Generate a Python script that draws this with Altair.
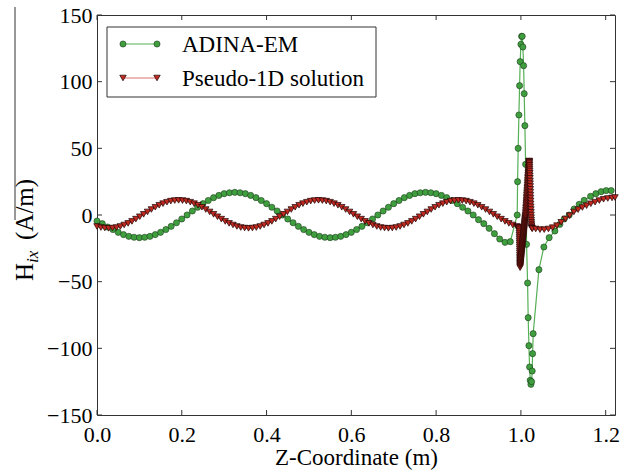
import altair as alt
import pandas as pd

FONT = "Liberation Serif"
W, H = 518, 400

# ---------------- data ----------------
x_ticks = [0.0, 0.2, 0.4, 0.6, 0.8, 1.0, 1.2]
y_ticks = [-150, -100, -50, 0, 50, 100, 150]

# ADINA-EM: regular grid part (step 0.0125 m starting at z = 0)
ADINA_STEP = 0.0125
adina_regular = [
    -4.5, -6.5, -9.0, -10.9, -13.0, -14.7, -16.0, -16.7, -17.0, -16.7, -16.0, -14.7,
    -13.0, -10.9, -8.5, -5.8, -3.0, 0.0, 3.0, 5.8, 8.5, 10.9, 13.0, 14.7,
    16.0, 16.7, 17.0, 16.7, 16.0, 14.7, 13.0, 10.9, 8.5, 5.8, 3.0, 0.0,
    -3.0, -5.8, -8.5, -10.9, -13.0, -14.7, -16.0, -16.7, -17.0, -16.7, -16.0, -14.7,
    -13.0, -10.9, -8.5, -5.8, -3.0, 0.0, 3.0, 5.8, 8.5, 10.9, 13.0, 14.7,
    16.0, 16.7, 17.0, 16.7, 16.0, 14.7, 13.0, 10.9, 8.5, 5.8, 3.0, 0.0,
    -3.5, -6.5, -10.0, -14.0, -18.0, -20.5, -20.0,
]
# ADINA-EM: refined region near z = 1.0 and beyond
adina_tail_z = [
    0.9913, 0.9922, 0.9936, 0.9953, 0.9969, 0.9983, 1.0000, 1.0017, 1.0031, 1.0047,
    1.0064, 1.0078, 1.0094, 1.0111, 1.0134, 1.0158, 1.0172, 1.0189, 1.0205, 1.0219,
    1.0236, 1.0252, 1.0267, 1.0276, 1.0290, 1.0425, 1.0542, 1.0667, 1.0802, 1.0920,
    1.1021, 1.1139, 1.1257, 1.1375, 1.1493, 1.1644, 1.1769, 1.1894, 1.2012, 1.2130,
]
adina_tail_h = [
    0, 25, 50, 75, 97, 115, 128, 134, 134, 126,
    112, 91, 67, 38, -22, -51, -77, -98, -114, -124,
    -127, -125, -117, -104, -89, -41, -24, -17, -12, -7,
    -3, 0, 4.5, 8, 11, 14, 16, 17.5, 18.3, 18.3,
]

# Pseudo-1D: regular grid part (step 0.33/36 m starting at z = 0)
PSEUDO_STEP = 0.33 / 36
pseudo_regular = [
    -8.6, -9.4, -9.8, -10.0, -9.8, -9.4, -8.6, -7.5, -6.3, -4.8, -3.1, -1.3,
    0.5, 2.3, 4.1, 5.8, 7.3, 8.5, 9.6, 10.4, 10.8, 11.0, 10.8, 10.4,
    9.6, 8.5, 7.3, 5.8, 4.1, 2.3, 0.5, -1.3, -3.1, -4.8, -6.3, -7.5,
    -8.6, -9.4, -9.8, -10.0, -9.8, -9.4, -8.6, -7.5, -6.3, -4.8, -3.1, -1.3,
    0.5, 2.3, 4.1, 5.8, 7.3, 8.5, 9.6, 10.4, 10.8, 11.0, 10.8, 10.4,
    9.6, 8.5, 7.3, 5.8, 4.1, 2.3, 0.5, -1.3, -3.1, -4.8, -6.3, -7.5,
    -8.6, -9.4, -9.8, -10.0, -9.8, -9.4, -8.6, -7.5, -6.3, -4.8, -3.1, -1.3,
    0.5, 2.3, 4.1, 5.8, 7.3, 8.5, 9.6, 10.4, 10.8, 11.0, 10.8, 10.4,
    9.6, 8.5, 7.3, 5.8, 4.1, 2.3, 0.5, -1.3, -3.1, -4.8, -6.3, -7.5,
    -8.6,
]
# Pseudo-1D: densely sampled thin layer near z = 1.0 (drawn as the dark band)
pseudo_layer_z = [
    # approach and nearly vertical drop
    0.9920, 0.9940, 0.9955,
    0.9960, 0.9961, 0.9962, 0.9963, 0.9964, 0.9965, 0.9966, 0.9967, 0.9968, 0.9969,
    0.9970, 0.9971, 0.9972, 0.9973, 0.9974, 0.9975, 0.9976, 0.9977, 0.9978, 0.9979,
    0.9980, 0.9981, 0.9982,
    # rise
    0.99850, 0.99875, 0.99900, 0.99925, 0.99950, 0.99975, 1.00000, 1.00025, 1.00050, 1.00075,
    1.00100, 1.00125, 1.00150, 1.00175, 1.00200, 1.00225, 1.00250, 1.00275, 1.00300, 1.00325,
    1.00350, 1.00375, 1.00400, 1.00425, 1.00450, 1.00475, 1.00500, 1.00525, 1.00550, 1.00575,
    1.00600, 1.00625, 1.00650, 1.00675, 1.00700, 1.00725, 1.00750, 1.00775, 1.00800, 1.00825,
    1.00850, 1.00875, 1.00900, 1.00925, 1.00950, 1.00975, 1.01000, 1.01025, 1.01050, 1.01075,
    1.01100, 1.01125, 1.01150, 1.01175, 1.01200, 1.01225, 1.01250, 1.01275, 1.01300, 1.01325,
    1.01350, 1.01375, 1.01400, 1.01425, 1.01450, 1.01475, 1.01500, 1.01525, 1.01550, 1.01575,
    1.01600, 1.01625, 1.01650, 1.01675, 1.01700, 1.01725, 1.01750, 1.01775, 1.01800, 1.01825,
    1.01850, 1.01875, 1.01900,
    # top and fall
    1.0195, 1.0197, 1.0199, 1.0201, 1.0203, 1.0205, 1.0207, 1.0209, 1.0211, 1.0213,
    1.0215, 1.0217, 1.0219, 1.0221, 1.0223, 1.0225, 1.0227, 1.0229, 1.0231, 1.0233,
    1.0235, 1.0237, 1.0239, 1.0241, 1.0243, 1.0245, 1.0247, 1.0249, 1.0251, 1.0253,
    1.0256, 1.0260, 1.0270,
]
pseudo_layer_h = [
    -9.0, -9.3, -9.6,
    -10.5, -12.0, -13.5, -15.0, -16.5, -18.0, -19.5, -21.0, -22.5, -24.0,
    -25.5, -27.0, -28.5, -30.0, -31.3, -32.6, -33.8, -35.0, -36.1, -37.1,
    -38.0, -38.8, -39.5,
    -38.0, -37.2, -36.5, -35.7, -35.0, -34.2, -33.4, -32.7, -31.9, -31.2,
    -30.4, -29.6, -28.9, -28.1, -27.4, -26.6, -25.8, -25.1, -24.3, -23.6,
    -22.8, -22.0, -21.3, -20.5, -19.8, -19.0, -18.2, -17.5, -16.7, -16.0,
    -15.2, -14.4, -13.7, -12.9, -12.2, -11.4, -10.6, -9.9, -9.1, -8.4,
    -7.6, -6.8, -6.1, -5.3, -4.6, -3.8, -3.0, -2.3, -1.5, -0.8,
    0.0, 1.2, 2.5, 3.7, 5.0, 6.2, 7.5, 8.7, 10.0, 11.2,
    12.5, 13.7, 15.0, 16.2, 17.5, 18.7, 20.0, 21.2, 22.5, 23.7,
    25.0, 26.2, 27.5, 28.7, 30.0, 31.2, 32.5, 33.7, 35.0, 36.2,
    37.5, 38.7, 40.0,
    40.5, 40.3, 39.5, 38.5, 37.3, 36.0, 34.5, 33.0, 31.2, 29.4,
    27.5, 25.5, 23.5, 21.4, 19.3, 17.2, 15.0, 12.8, 10.6, 8.4,
    6.2, 4.1, 2.0, 0.0, -2.0, -3.8, -5.4, -6.8, -8.0, -9.0,
    -9.7, -10.1, -10.3,
]
# Pseudo-1D: beyond the layer
pseudo_after_z = [
    1.035, 1.045, 1.055, 1.065, 1.075, 1.085, 1.095, 1.105, 1.115, 1.125,
    1.135, 1.145, 1.155, 1.165, 1.175, 1.185, 1.195, 1.205, 1.215, 1.222,
]
pseudo_after_h = [
    -10.5, -11, -11, -10.5, -9.5, -8, -5.5, -3, -0.5, 2.3,
    4, 5.6, 7, 8.4, 9.6, 10.8, 11.8, 12.4, 12.8, 13.1,
]

adina_z = [round(i * ADINA_STEP, 5) for i in range(len(adina_regular))] + adina_tail_z
adina_h = adina_regular + adina_tail_h
pseudo_z = ([round(i * PSEUDO_STEP, 5) for i in range(len(pseudo_regular))]
            + pseudo_layer_z + pseudo_after_z)
pseudo_h = pseudo_regular + pseudo_layer_h + pseudo_after_h

adina = pd.DataFrame({"z": adina_z, "h": adina_h, "k": list(range(len(adina_z)))})
pseudo = pd.DataFrame({"z": pseudo_z, "h": pseudo_h, "k": list(range(len(pseudo_z)))})
xt = pd.DataFrame({"z": x_ticks})
yt = pd.DataFrame({"h": y_ticks})
one = pd.DataFrame({"a": [0]})

# ---------------- styles ----------------
GREEN_FILL, GREEN_EDGE, GREEN_LINE = "#3f9f3f", "#1c3a1c", "#55b055"
RED_FILL, RED_EDGE, RED_LINE = "#c02a20", "#1e0505", "#d87070"
FRAME = "#333333"
G_SIZE, R_SIZE = 38, 42

xs = alt.Scale(domain=[0, 1.222], nice=False, zero=False)
ys = alt.Scale(domain=[-150, 150], nice=False, zero=False)

x_axis = alt.Axis(values=x_ticks, format=".1f", title="Z-Coordinate (m)", ticks=False,
                  labelFont=FONT, labelFontSize=22, labelPadding=9, labelColor="black",
                  titleFont=FONT, titleFontSize=23, titleFontWeight="normal",
                  titleColor="black", titlePadding=1, domain=False, grid=False,
                  labelFlush=False)
y_axis = alt.Axis(values=y_ticks, format="d", title=None, ticks=False,
                  labelFont=FONT, labelFontSize=22, labelPadding=5, labelColor="black",
                  domain=False, grid=False, labelFlush=False)

X = alt.X("z:Q", scale=xs, axis=x_axis)
Y = alt.Y("h:Q", scale=ys, axis=y_axis)

green_line = alt.Chart(adina).mark_line(color=GREEN_LINE, strokeWidth=1.2).encode(
    x=X, y=Y, order="k:Q")
green_pts = alt.Chart(adina).mark_point(
    shape="circle", filled=True, fill=GREEN_FILL, stroke=GREEN_EDGE, strokeWidth=0.6,
    size=G_SIZE, opacity=1, fillOpacity=1, strokeOpacity=1).encode(x=X, y=Y)
red_line = alt.Chart(pseudo).mark_line(color=RED_LINE, strokeWidth=1.2).encode(
    x=X, y=Y, order="k:Q")
red_pts = alt.Chart(pseudo).mark_point(
    shape="triangle-down", filled=True, fill=RED_FILL, stroke=RED_EDGE, strokeWidth=0.7,
    size=R_SIZE, opacity=1, fillOpacity=1, strokeOpacity=1).encode(x=X, y=Y)

# inward ticks on all four sides
TL = 5
tick_b = alt.Chart(xt).mark_rule(color=FRAME).encode(x=X, y=alt.value(H), y2=alt.value(H - TL))
tick_t = alt.Chart(xt).mark_rule(color=FRAME).encode(x=X, y=alt.value(0), y2=alt.value(TL))
tick_l = alt.Chart(yt).mark_rule(color=FRAME).encode(y=Y, x=alt.value(0), x2=alt.value(TL))
tick_r = alt.Chart(yt).mark_rule(color=FRAME).encode(y=Y, x=alt.value(W), x2=alt.value(W - TL))

# y-axis title  H_ix (A/m)
yt_H = alt.Chart(one).mark_text(text="H", angle=270, align="left", baseline="alphabetic",
                                font=FONT, fontSize=25, color="black").encode(
    x=alt.value(-64), y=alt.value(266))
yt_ix = alt.Chart(one).mark_text(text="ix", angle=270, align="left", baseline="alphabetic",
                                 font=FONT, fontSize=17, fontStyle="italic", color="black").encode(
    x=alt.value(-59), y=alt.value(248))
yt_unit = alt.Chart(one).mark_text(text="(A/m)", angle=270, align="left", baseline="alphabetic",
                                   font=FONT, fontSize=25, color="black").encode(
    x=alt.value(-64), y=alt.value(225))
yt_bar = alt.Chart(one).mark_rule(color=FRAME, strokeWidth=1).encode(
    x=alt.value(-82), y=alt.value(-8), y2=alt.value(205))

# legend
leg_box = alt.Chart(one).mark_rect(fill="white", stroke=FRAME, strokeWidth=1).encode(
    x=alt.value(10), x2=alt.value(279), y=alt.value(12), y2=alt.value(82))
leg_g_line = alt.Chart(one).mark_rule(color=GREEN_LINE, strokeWidth=1.2).encode(
    x=alt.value(26), x2=alt.value(60), y=alt.value(29))
leg_r_line = alt.Chart(one).mark_rule(color=RED_LINE, strokeWidth=1.2).encode(
    x=alt.value(26), x2=alt.value(60), y=alt.value(63))
leg_marks = []
for xv in (26, 60):
    leg_marks.append(alt.Chart(one).mark_point(
        shape="circle", filled=True, fill=GREEN_FILL, stroke=GREEN_EDGE, strokeWidth=0.6,
        size=G_SIZE, opacity=1).encode(x=alt.value(xv), y=alt.value(29)))
    leg_marks.append(alt.Chart(one).mark_point(
        shape="triangle-down", filled=True, fill=RED_FILL, stroke=RED_EDGE, strokeWidth=0.7,
        size=R_SIZE, opacity=1).encode(x=alt.value(xv), y=alt.value(63)))
leg_t1 = alt.Chart(one).mark_text(text="ADINA-EM", align="left", baseline="middle",
                                  font=FONT, fontSize=23, color="black").encode(
    x=alt.value(85), y=alt.value(30))
leg_t2 = alt.Chart(one).mark_text(text="Pseudo-1D solution", align="left", baseline="middle",
                                  font=FONT, fontSize=23, color="black").encode(
    x=alt.value(85), y=alt.value(64))

chart = alt.layer(
    green_line, green_pts, red_line, red_pts,
    tick_b, tick_t, tick_l, tick_r,
    yt_H, yt_ix, yt_unit, yt_bar,
    leg_box, leg_g_line, leg_r_line, *leg_marks, leg_t1, leg_t2,
).properties(
    width=W, height=H,
    padding={"left": 97, "top": 15, "right": 20, "bottom": 59},
    autosize=alt.AutoSizeParams(type="none"),
    background="white",
).configure_view(stroke=FRAME, strokeWidth=1)

chart.save("out.html", embed_options={"renderer": "svg", "actions": False})
